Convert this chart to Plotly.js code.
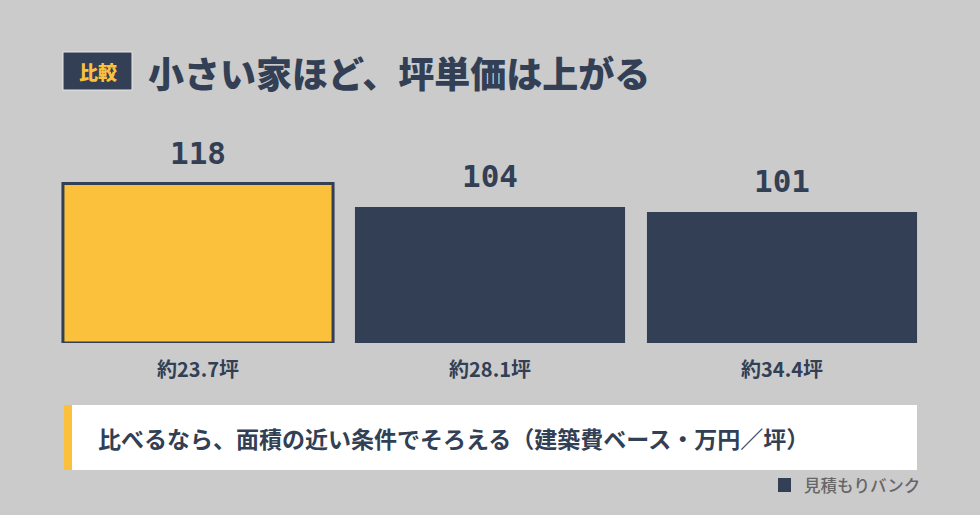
<!DOCTYPE html>
<html>
<head>
<meta charset="utf-8">
<script src="https://cdn.plot.ly/plotly-3.0.1.min.js"></script>
<style>
  html, body { margin: 0; padding: 0; background: #cbcbcb; }
  #chart { width: 980px; height: 515px; }
</style>
</head>
<body>
<div id="chart"></div>
<script>
// ---- data -------------------------------------------------------------------
const CATEGORIES = ['約23.7坪', '約28.1坪', '約34.4坪'];
const VALUES     = [118, 104, 101];          // 建築費ベース・万円／坪
const HIGHLIGHT  = [true, false, false];

const TITLE_BADGE = '比較';
const TITLE_TEXT  = '小さい家ほど、坪単価は上がる';
const NOTE_TEXT   = '比べるなら、面積の近い条件でそろえる（建築費ベース・万円／坪）';
const SOURCE_TEXT = '見積もりバンク';

// ---- style ------------------------------------------------------------------
const NAVY   = '#323f55';
const YELLOW = '#fcc13c';
const BG     = '#cbcbcb';
const JP     = '"Noto Sans CJK JP", "Noto Sans", sans-serif';
const JP_BLACK = '"Noto Sans CJK JP Black", "Noto Sans CJK JP", sans-serif';
const MONO   = '"DejaVu Sans Mono", monospace';

const W = 980, H = 515;
const M = { l: 52, r: 52, t: 130, b: 172 };
const AXIS_MIN = 22.8, AXIS_MAX = 150;

// pixel -> paper helpers (paper = plot area)
const PW = W - M.l - M.r, PH = H - M.t - M.b;
const px = x => (x - M.l) / PW;
const py = y => (H - M.b - y) / PH;

const bars = {
  type: 'bar',
  x: CATEGORIES,
  y: VALUES.map(v => v - AXIS_MIN),
  base: AXIS_MIN,
  marker: {
    color: HIGHLIGHT.map(h => h ? YELLOW : NAVY),
    line: { color: NAVY, width: HIGHLIGHT.map(h => h ? 3 : 0) },
  },
  hoverinfo: 'skip',
};

const valueLabels = CATEGORIES.map((c, i) => ({
  x: c, y: VALUES[i], xref: 'x', yref: 'y',
  text: String(VALUES[i]), showarrow: false,
  yanchor: 'bottom', yshift: 11,
  font: { family: MONO, size: 31, color: NAVY, weight: 700 },
}));

const layout = {
  width: W, height: H,
  paper_bgcolor: BG, plot_bgcolor: BG,
  margin: M,
  showlegend: false,
  bargap: 0.075,
  xaxis: {
    showgrid: false, zeroline: false, showline: false, ticks: '',
    ticklabelstandoff: 13,
    tickfont: { family: JP, size: 20, color: NAVY, weight: 700 },
    fixedrange: true,
  },
  yaxis: {
    range: [AXIS_MIN, AXIS_MAX],
    visible: false, fixedrange: true,
  },
  shapes: [
    // title badge
    { type: 'rect', xref: 'paper', yref: 'paper',
      x0: px(63), x1: px(132), y0: py(90), y1: py(52),
      fillcolor: NAVY, line: { color: '#e8e8e8', width: 1 } },
    // note box
    { type: 'rect', xref: 'paper', yref: 'paper',
      x0: px(64), x1: px(917), y0: py(470), y1: py(405),
      fillcolor: '#ffffff', line: { width: 0 } },
    { type: 'rect', xref: 'paper', yref: 'paper',
      x0: px(64), x1: px(72), y0: py(470), y1: py(405),
      fillcolor: YELLOW, line: { width: 0 } },
    // source marker
    { type: 'rect', xref: 'paper', yref: 'paper',
      x0: px(778), x1: px(791), y0: py(492), y1: py(478),
      fillcolor: NAVY, line: { width: 0 } },
  ],
  annotations: [
    ...valueLabels,
    { xref: 'paper', yref: 'paper', x: px(97.5), y: py(71),
      text: TITLE_BADGE, showarrow: false, xanchor: 'center', yanchor: 'middle',
      font: { family: JP_BLACK, size: 19, color: YELLOW, weight: 900 } },
    { xref: 'paper', yref: 'paper', x: px(146), y: py(72),
      text: TITLE_TEXT, showarrow: false, xanchor: 'left', yanchor: 'middle',
      font: { family: JP_BLACK, size: 36, color: NAVY, weight: 900 } },
    { xref: 'paper', yref: 'paper', x: px(96), y: py(438),
      text: NOTE_TEXT, showarrow: false, xanchor: 'left', yanchor: 'middle',
      font: { family: JP, size: 23, color: NAVY, weight: 700 } },
    { xref: 'paper', yref: 'paper', x: px(802), y: py(485),
      text: SOURCE_TEXT, showarrow: false, xanchor: 'left', yanchor: 'middle',
      font: { family: JP, size: 16.5, color: '#666666', weight: 500 } },
  ],
};

Plotly.newPlot('chart', [bars], layout, { displayModeBar: false, staticPlot: true });
</script>
</body>
</html>
